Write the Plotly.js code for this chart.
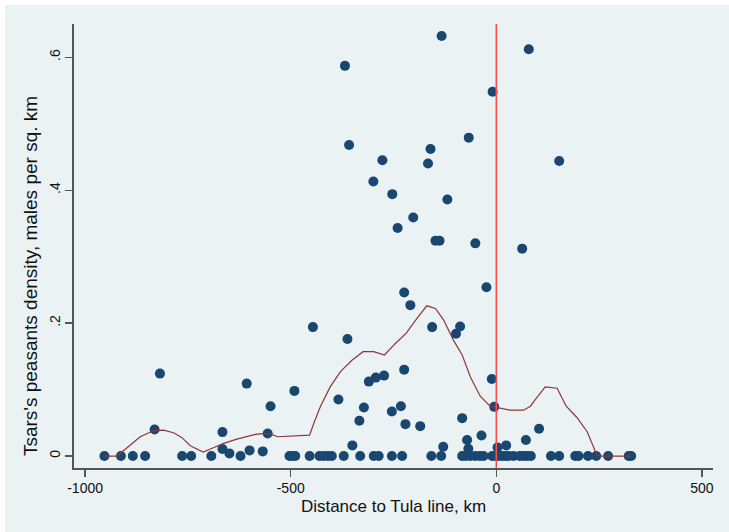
<!DOCTYPE html>
<html>
<head>
<meta charset="utf-8">
<script src="https://cdn.plot.ly/plotly-3.0.1.min.js"></script>
<style>html,body{margin:0;padding:0;background:#fff;}#chart{width:729px;height:532px;}</style>
</head>
<body>
<div id="chart"></div>
<script>
// Distance to Tula line (km) and Tsars's peasants density (males per sq. km)
var distance = [
  -818, -831, -666, -666, -649, -600, -607, -549, -556, -568, -491, -446,
  -368, -358, -362, -384, -350, -333, -322, -310, -293, -273, -299, -277,
  -253, -254, -240, -232, -224, -224, -221, -209, -202, -185, -166, -160,
  -156, -148, -138, -133, -129, -119, -98, -88, -83, -71, -68, -67, -51,
  -36, -24, -11, -9, -5, 3, 24, 63, 72, 79, 104, 153,
  -953, -913, -884, -854, -764, -742, -693, -622, -503, -497, -489, -454,
  -430, -420, -410, -400, -371, -331, -298, -286, -254, -229, -158, -134,
  -83, -74, -63, -51, -40, -31, -10, -2, 6, 14, 22, 30, 42, 57, 66, 75, 84,
  133, 153, 192, 200, 223, 243, 272, 322, 328
];
var density = [
  0.124, 0.040, 0.036, 0.0105, 0.004, 0.0085, 0.109, 0.075, 0.034, 0.007, 0.098, 0.194,
  0.587, 0.468, 0.176, 0.085, 0.016, 0.053, 0.073, 0.112, 0.118, 0.121, 0.413, 0.445,
  0.394, 0.067, 0.343, 0.075, 0.246, 0.130, 0.048, 0.227, 0.359, 0.045, 0.440, 0.462,
  0.194, 0.324, 0.324, 0.632, 0.014, 0.386, 0.184, 0.195, 0.057, 0.024, 0.011, 0.479, 0.320,
  0.031, 0.254, 0.116, 0.548, 0.074, 0.013, 0.016, 0.312, 0.024, 0.612, 0.041, 0.444,
  0, 0, 0, 0, 0, 0, 0, 0, 0, 0, 0, 0,
  0, 0, 0, 0, 0, 0, 0, 0, 0, 0, 0, 0,
  0, 0, 0, 0, 0, 0, 0, 0, 0, 0, 0, 0, 0, 0, 0, 0, 0,
  0, 0, 0, 0, 0, 0, 0, 0, 0
];
// Local smooth (lowess-like) fit
var smoothX = [-953, -923, -895, -866, -834, -809, -785, -765, -744, -713, -688, -663, -631,
  -586, -562, -548, -532, -509, -477, -454, -444, -428, -404, -379, -351, -324, -298, -272,
  -246, -219, -193, -169, -148, -128, -104, -83, -63, -39, -15, 1.6, 14, 34, 50, 66, 83, 91,
  119, 148, 170, 196, 221, 245, 253, 326];
var smoothY = [0, 0, 0.014, 0.029, 0.038, 0.039, 0.035, 0.028, 0.0155, 0.006, 0.0125, 0.019, 0.0255,
  0.0325, 0.034, 0.033, 0.029, 0.030, 0.0305, 0.0315, 0.049, 0.074, 0.104, 0.127, 0.144, 0.157, 0.157, 0.152,
  0.169, 0.185, 0.207, 0.226, 0.222, 0.2045, 0.174, 0.152, 0.119, 0.090, 0.075, 0.073, 0.0707, 0.069, 0.069, 0.069, 0.075, 0.082,
  0.104, 0.102, 0.075, 0.058, 0.0366, 0.001, 0, 0];
var xTicks = [-1000, -500, 0, 500];
var xTickText = ['-1000', '-500', '0', '500'];
var yTicks = [0, 0.2, 0.4, 0.6];
var yTickText = ['0', '.2', '.4', '.6'];
var cutoff = 0;
var xTitle = 'Distance to Tula line, km';
var yTitle = "Tsars's peasants density, males per sq. km";

var axisColor = '#555555';
var font = 'Liberation Sans, Arial, sans-serif';

var traces = [
  {
    x: distance, y: density, type: 'scatter', mode: 'markers',
    marker: {color: '#1a476f', size: 10, line: {width: 0}},
    hoverinfo: 'x+y', showlegend: false
  },
  {
    x: smoothX, y: smoothY, type: 'scatter', mode: 'lines',
    line: {color: '#90353b', width: 1.2},
    hoverinfo: 'skip', showlegend: false
  }
];

var layout = {
  width: 729, height: 532,
  margin: {l: 74, r: 16, t: 24, b: 64, pad: 0},
  paper_bgcolor: '#ffffff',
  plot_bgcolor: '#ffffff',
  font: {family: font, color: '#111111', size: 14},
  showlegend: false,
  xaxis: {
    range: [-1027, 527], tickvals: xTicks, ticktext: xTickText,
    ticks: 'outside', ticklen: 7, tickwidth: 1.3, tickcolor: axisColor,
    showline: true, linecolor: axisColor, linewidth: 1.6, mirror: false,
    showgrid: false, zeroline: false,
    tickfont: {size: 14, family: font, color: '#111111'},
    title: {text: xTitle, font: {size: 17, family: font, color: '#111111'}, standoff: 4},
    automargin: false
  },
  yaxis: {
    range: [-0.018, 0.65], tickvals: yTicks, ticktext: yTickText, tickangle: -90,
    ticks: 'outside', ticklen: 7, tickwidth: 1.3, tickcolor: axisColor,
    showline: true, linecolor: axisColor, linewidth: 1.6,
    showgrid: true, gridcolor: '#eaf2f3', gridwidth: 1, zeroline: false,
    tickfont: {size: 14, family: font, color: '#111111'},
    automargin: false
  },
  annotations: [
    {text: yTitle, textangle: -90, xref: 'paper', yref: 'paper',
     x: -0.069, y: 0.432, xanchor: 'center', yanchor: 'middle', showarrow: false,
     font: {size: 19, family: font, color: '#111111'}}
  ],
  shapes: [
    {type: 'rect', xref: 'paper', yref: 'paper', x0: -0.108, x1: 1.03, y0: -0.15, y1: 1.0428,
     fillcolor: '#eaf2f3', line: {width: 0}, layer: 'below'},
    {type: 'line', xref: 'x', yref: 'paper', x0: cutoff, x1: cutoff, y0: 0, y1: 1,
     line: {color: '#ff4d4d', width: 1.6}, layer: 'above'}
  ]
};

Plotly.newPlot('chart', traces, layout, {displayModeBar: false, staticPlot: true});
</script>
</body>
</html>
